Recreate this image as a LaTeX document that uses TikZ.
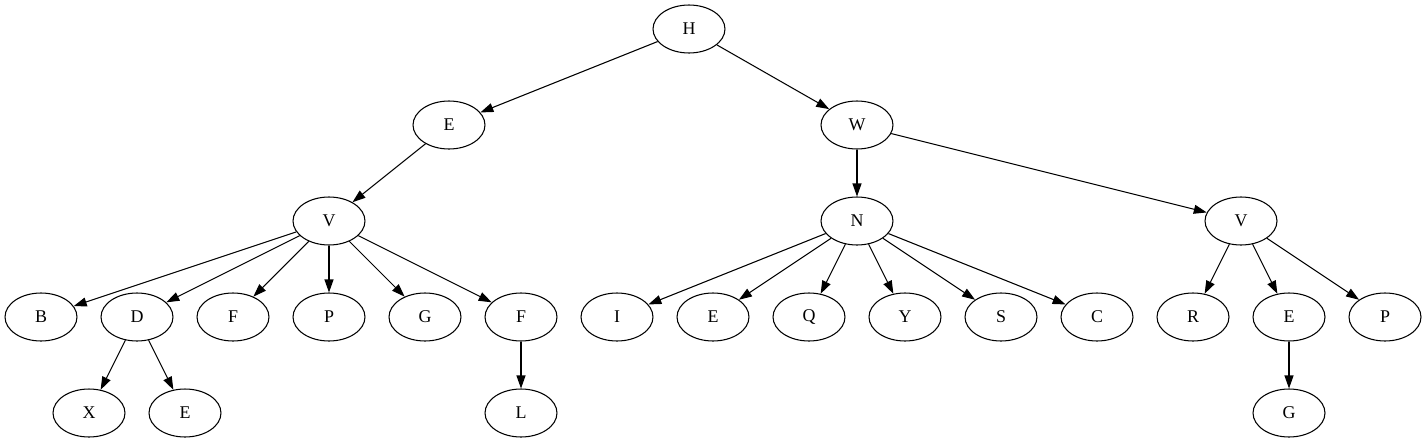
\documentclass[tikz,border=0pt]{standalone}
\usepackage{fontspec}
\setmainfont{Liberation Serif}
\usetikzlibrary{shapes.geometric,arrows.meta}
\begin{document}
\begin{tikzpicture}[x=0.02cm,y=-0.02cm,
  nd/.style={draw,ellipse,line width=0.6pt,minimum width=1.44cm,minimum height=0.96cm,inner sep=0pt,font=\fontsize{10.2}{12}\selectfont},
  ar/.style={line width=0.6pt,-{Triangle[length=0.26cm,width=0.18cm]}}]
\useasboundingbox (0,0) rectangle (1427,443);
\node[nd] (H) at (689,29) {H};
\node[nd] (E1) at (449,125) {E};
\node[nd] (W) at (857,125) {W};
\node[nd] (V1) at (329,221) {V};
\node[nd] (N) at (857,221) {N};
\node[nd] (V2) at (1241,221) {V};
\node[nd] (B) at (41,317) {B};
\node[nd] (D) at (137,317) {D};
\node[nd] (F1) at (233,317) {F};
\node[nd] (P1) at (329,317) {P};
\node[nd] (G1) at (425,317) {G};
\node[nd] (F2) at (521,317) {F};
\node[nd] (I) at (617,317) {I};
\node[nd] (E2) at (713,317) {E};
\node[nd] (Q) at (809,317) {Q};
\node[nd] (Y) at (905,317) {Y};
\node[nd] (S) at (1001,317) {S};
\node[nd] (C) at (1097,317) {C};
\node[nd] (R) at (1193,317) {R};
\node[nd] (E3) at (1289,317) {E};
\node[nd] (P2) at (1385,317) {P};
\node[nd] (X) at (89,413) {X};
\node[nd] (E4) at (185,413) {E};
\node[nd] (L) at (521,413) {L};
\node[nd] (G2) at (1289,413) {G};
\foreach \a/\b in {H/E1,H/W,E1/V1,W/N,W/V2,V1/B,V1/D,V1/F1,V1/P1,V1/G1,V1/F2,N/I,N/E2,N/Q,N/Y,N/S,N/C,V2/R,V2/E3,V2/P2,D/X,D/E4,F2/L,E3/G2}
  \draw[ar] (\a) -- (\b);
\end{tikzpicture}
\end{document}
